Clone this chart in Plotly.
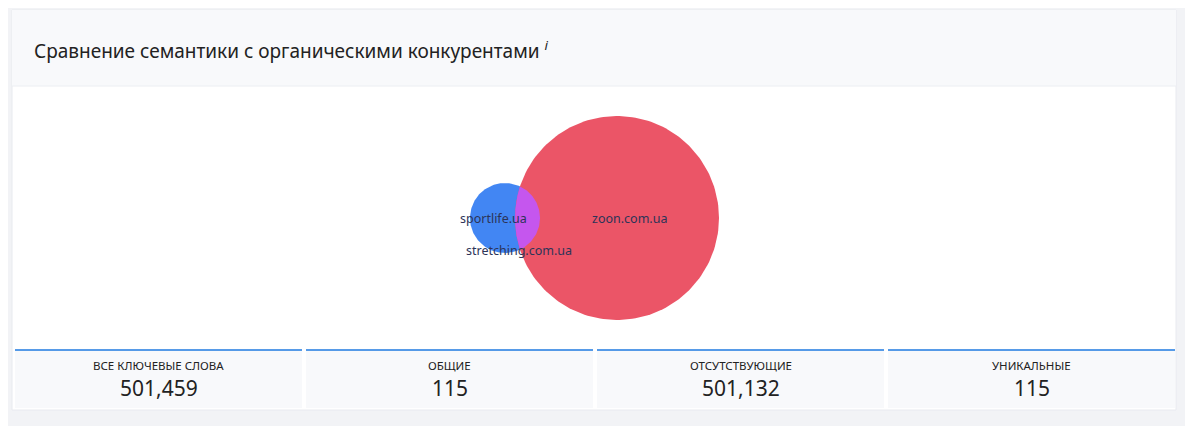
import numpy as np
import plotly.graph_objects as go

W, H = 1193, 434
PAD = 8  # page body margin

# venn circles (pixel centres / radii)
sites = ["sportlife.ua", "zoon.com.ua"]
centre_x = [505, 617]
centre_y = [218, 218]
radii = [35, 102]
colors = ["#4286f3", "#eb5567"]
overlap_site = "stretching.com.ua"

# summary blocks
stat_labels = ["ВСЕ КЛЮЧЕВЫЕ СЛОВА", "ОБЩИЕ", "ОТСУТСТВУЮЩИЕ", "УНИКАЛЬНЫЕ"]
stat_values = ["501,459", "115", "501,132", "115"]

fig = go.Figure()

t = np.linspace(0, 2 * np.pi, 200)
for name, cx, cy, r, c in zip(sites, centre_x, centre_y, radii, colors):
    fig.add_trace(go.Scatter(x=cx + r * np.cos(t), y=cy + r * np.sin(t), mode="lines",
                             fill="toself", fillcolor=c, line=dict(width=0), hoverinfo="skip"))

# overlap lens
(x1, x2), (r1, r2), cy = centre_x, radii, centre_y[0]
d = x2 - x1
a = (d * d + r1 * r1 - r2 * r2) / (2 * d)
h = np.sqrt(r1 * r1 - a * a)
ang1 = np.arctan2(h, a)
ang2 = np.arctan2(h, a - d)
p1 = np.linspace(-ang1, ang1, 80)
p2 = np.linspace(ang2, 2 * np.pi - ang2, 80)
lx = np.concatenate([x1 + r1 * np.cos(p1), x2 + r2 * np.cos(p2)])
ly = np.concatenate([cy + r1 * np.sin(p1), cy + r2 * np.sin(p2)])
fig.add_trace(go.Scatter(x=lx, y=ly, mode="lines", fill="toself", fillcolor="#c556ee",
                         line=dict(width=0), hoverinfo="skip"))

lab_font = dict(family="Noto Sans", size=12.5, color="#2c3458")
fig.add_annotation(x=centre_x[0] - 12, y=centre_y[0], text=sites[0], showarrow=False, font=lab_font)
fig.add_annotation(x=centre_x[1] + 12, y=centre_y[1], text=sites[1], showarrow=False, font=lab_font)
fig.add_annotation(x=519, y=250, text=overlap_site, showarrow=False, font=lab_font)

shapes = [
    dict(type="rect", x0=0, x1=W, y0=0, y1=H, fillcolor="#f2f3f6", line=dict(width=0), layer="below"),
    dict(type="rect", x0=12, x1=1176, y0=10, y1=410, fillcolor="white",
         line=dict(color="#e8eaef", width=1), layer="below"),
    dict(type="rect", x0=12, x1=1176, y0=10, y1=86, fillcolor="#f8f9fb",
         line=dict(width=0), layer="below"),
    dict(type="line", x0=12, x1=1176, y0=86, y1=86, line=dict(color="#eceef2", width=1), layer="below"),
    dict(type="rect", x0=12, x1=1176, y0=430, y1=460, fillcolor="white",
         line=dict(color="#e8eaef", width=1), layer="below"),
]
box_x0 = [15, 306, 597, 888]
bw = 287
for x0, lab, val in zip(box_x0, stat_labels, stat_values):
    shapes.append(dict(type="rect", x0=x0, x1=x0 + bw, y0=350, y1=408, fillcolor="#f8f9fb",
                       line=dict(width=0), layer="below"))
    shapes.append(dict(type="line", x0=x0, x1=x0 + bw, y0=350, y1=350,
                       line=dict(color="#1f7ae0", width=1.5)))
    fig.add_annotation(x=x0 + bw / 2, y=365, text=lab, showarrow=False,
                       font=dict(family="Noto Sans", size=11.5, color="#222"))
    fig.add_annotation(x=x0 + bw / 2, y=388, text=val, showarrow=False,
                       font=dict(family="Noto Sans", size=21, color="#222"))

fig.add_annotation(x=32, y=50, xanchor="left", showarrow=False,
                   text="Сравнение семантики с органическими конкурентами <sup><i>i</i></sup>",
                   font=dict(family="Noto Sans", size=19, color="#222"))

fig.update_layout(width=W - 2 * PAD, height=H - 2 * PAD, margin=dict(l=0, r=0, t=0, b=0),
                  showlegend=False, paper_bgcolor="#f2f3f6", plot_bgcolor="rgba(0,0,0,0)",
                  shapes=shapes,
                  xaxis=dict(range=[PAD, W - PAD], visible=False, fixedrange=True),
                  yaxis=dict(range=[H - PAD, PAD], visible=False, fixedrange=True))
fig.write_html("out.html", config={"displayModeBar": False})
